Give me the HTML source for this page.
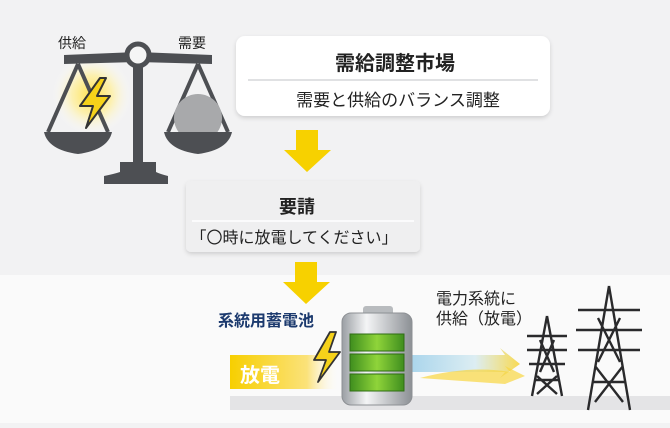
<!DOCTYPE html>
<html><head><meta charset="utf-8"><style>
body{margin:0;width:670px;height:423px;overflow:hidden;background:#f2f2f3;font-family:"Liberation Sans","Noto Sans CJK JP",sans-serif}
svg text{font-family:"Liberation Sans","Noto Sans CJK JP",sans-serif}
</style></head><body>
<svg width="670" height="423" viewBox="0 0 670 423">
<defs>
<radialGradient id="glow" cx="0.5" cy="0.5" r="0.5"><stop offset="0" stop-color="#ffe14a"/><stop offset="0.5" stop-color="#fff0a0" stop-opacity="0.8"/><stop offset="1" stop-color="#fff" stop-opacity="0"/></radialGradient>
<linearGradient id="band" x1="0" x2="1"><stop offset="0" stop-color="#f7cf00"/><stop offset="0.7" stop-color="#fbe27a"/><stop offset="1" stop-color="#fff" stop-opacity="0"/></linearGradient>
<linearGradient id="flow" x1="0" x2="1"><stop offset="0" stop-color="#9fd0ea"/><stop offset="0.6" stop-color="#d9ecf2"/><stop offset="1" stop-color="#f8d640"/></linearGradient>
<linearGradient id="batt" x1="0" x2="1"><stop offset="0" stop-color="#9a9ea3"/><stop offset="0.35" stop-color="#f4f5f6"/><stop offset="1" stop-color="#8c9095"/></linearGradient>
<linearGradient id="cell" x1="0" x2="1"><stop offset="0" stop-color="#3f8e1e"/><stop offset="0.5" stop-color="#8fd43a"/><stop offset="1" stop-color="#3f8e1e"/></linearGradient>
<filter id="sh" x="-10%" y="-20%" width="120%" height="150%"><feDropShadow dx="0" dy="2" stdDeviation="2" flood-color="#000" flood-opacity="0.15"/></filter>
</defs>
<rect x="0" y="275" width="670" height="148" fill="#fafafa"/>
<rect x="230" y="396" width="440" height="14" fill="#e4e4e6"/>
<!-- scale -->
<text x="58" y="48" font-size="14" fill="#222">供給</text>
<text x="178" y="48" font-size="14" fill="#222">需要</text>
<circle cx="92" cy="95" r="40" fill="url(#glow)"/>
<path d="M64 55 L138 52 L212 55 L212 64 L138 62 L64 64Z" fill="#4d4f53"/>
<circle cx="138" cy="55" r="11" fill="#f5f5f5" stroke="#4d4f53" stroke-width="5"/>
<rect x="133" y="64" width="10" height="102" fill="#4d4f53"/>
<path d="M120 162 H156 V172 Q160 174 168 176 V184 H104 V176 Q114 174 120 172Z" fill="#4d4f53"/>
<g fill="none" stroke="#4d4f53" stroke-width="4"><path d="M78 64 L48 132 M78 64 L108 132 M198 64 L168 132 M198 64 L228 132"/></g>
<path d="M44 132 H112 Q108 150 78 154 Q48 150 44 132Z" fill="#4d4f53"/>
<circle cx="198" cy="118" r="24" fill="#a8a9ab"/>
<path d="M164 132 H232 Q228 150 198 154 Q168 150 164 132Z" fill="#4d4f53"/>
<path d="M100 78 L80 106 H93 L86 128 L110 96 H97 L106 78Z" fill="#f6d21a" stroke="#333" stroke-width="2" stroke-linejoin="round"/>
<!-- box1 -->
<rect x="236" y="36" width="314" height="80" rx="9" fill="#fff" filter="url(#sh)"/>
<line x1="248" y1="80" x2="538" y2="80" stroke="#d6d7da" stroke-width="1.5"/>
<text x="395" y="70" font-size="20" font-weight="bold" fill="#222" text-anchor="middle">需給調整市場</text>
<text x="398" y="106" font-size="17" fill="#222" text-anchor="middle">需要と供給のバランス調整</text>
<!-- arrow1 -->
<path d="M296 130 H318 V150 H331 L307 172 L284 150 H296Z" fill="#f7d100"/>
<!-- box2 -->
<rect x="186" y="181" width="234" height="71" rx="5" fill="#efeff0" filter="url(#sh)"/>
<line x1="192" y1="221" x2="414" y2="221" stroke="#fff" stroke-width="1.5"/>
<text x="297" y="213" font-size="18" font-weight="bold" fill="#222" text-anchor="middle">要請</text>
<text x="294" y="243" font-size="16" fill="#222" text-anchor="middle">「〇時に放電してください」</text>
<!-- arrow2 -->
<path d="M295 262 H317 V282 H330 L306 304 L283 282 H295Z" fill="#f7d100"/>
<text x="218" y="326" font-size="16" font-weight="bold" fill="#1c3a6e">系統用蓄電池</text>
<rect x="230" y="355" width="110" height="34" fill="url(#band)"/>
<text x="240" y="382" font-size="20" font-weight="bold" fill="#fff">放電</text>
<path d="M330 332 L314 360 H326 L318 382 L340 352 H329 L336 332Z" fill="#f6d21a" stroke="#333" stroke-width="1.8" stroke-linejoin="round"/>
<path d="M408 355 H505 L500 348 L520 364 L500 378 L505 372 H408Z" fill="url(#flow)" opacity="0.9"/>
<path d="M420 378 Q470 365 510 372 L505 366 L525 376 L505 384 Z" fill="#f8d640" opacity="0.7"/>
<!-- battery -->
<rect x="363" y="306" width="30" height="10" rx="3" fill="#b8bbbe"/>
<rect x="342" y="313" width="70" height="92" rx="9" fill="url(#batt)" stroke="#8d9094"/>
<rect x="350" y="334" width="54" height="17" fill="url(#cell)" stroke="#2f6d14"/>
<rect x="350" y="354" width="54" height="17" fill="url(#cell)" stroke="#2f6d14"/>
<rect x="350" y="374" width="54" height="17" fill="url(#cell)" stroke="#2f6d14"/>
<text x="436" y="304" font-size="16" fill="#222">電力系統に</text>
<text x="436" y="324" font-size="16" fill="#222">供給（放電）</text>
<!-- towers -->
<g fill="none" stroke="#2a2a2c" stroke-width="2.4">
<path d="M547 316 L532 396 M547 316 L562 396 M527 336 L567 336 M527 350 L567 350 M529 364 L565 364 M540 340 L554 372 M554 340 L540 372 M537 376 L557 394 M557 376 L537 394 M535 380 L559 380"/>
<path d="M609 286 L588 410 M609 286 L630 410 M578 310 L640 310 M576 330 L642 330 M578 350 L640 350 M598 318 L620 362 M620 318 L598 362 M595 366 L623 402 M623 366 L595 402 M592 382 L626 382"/>
</g>
</svg>
</body></html>
